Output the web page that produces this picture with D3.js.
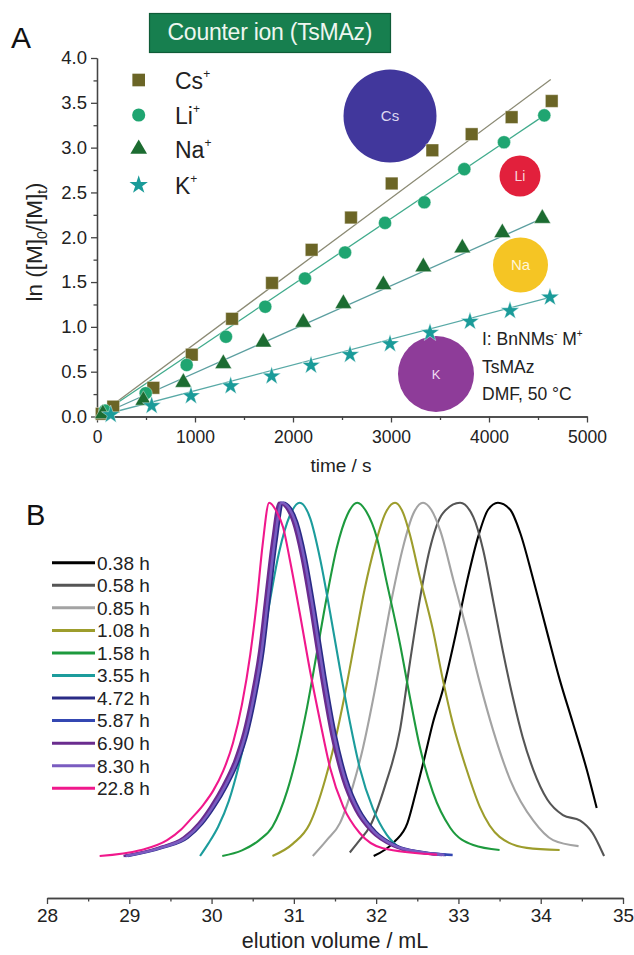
<!DOCTYPE html>
<html><head><meta charset="utf-8">
<script src="https://cdn.jsdelivr.net/npm/d3@7"></script>
<style>body{margin:0;background:#fff}text{font-family:"Liberation Sans",Arial,sans-serif}</style>
</head><body><svg id="c" width="634" height="955"></svg>
<script>
// ---------- Panel A data (time / s, ln([M]0/[M]t)) ----------
const csData = [[48,0.03],[166,0.11],[575,0.32],[967,0.69],[1378,1.09],[1786,1.49],[2190,1.86],[2592,2.22],[3007,2.60],[3422,2.97],[3823,3.15],[4231,3.34],[4640,3.52]];
const liData = [[82,0.065],[497,0.26],[915,0.575],[1316,0.89],[1717,1.225],[2122,1.54],[2531,1.83],[2939,2.16],[3340,2.39],[3748,2.76],[4153,3.06],[4564,3.36]];
const naData = [[60,0.03],[473,0.18],[881,0.38],[1289,0.59],[1697,0.83],[2105,1.05],[2514,1.26],[2922,1.47],[3330,1.67],[3728,1.88],[4136,2.05],[4544,2.21]];
const kData  = [[140,0.02],[558,0.12],[959,0.23],[1364,0.34],[1782,0.45],[2184,0.57],[2582,0.69],[2990,0.81],[3398,0.935],[3806,1.06],[4214,1.18],[4622,1.33]];
const csFit = [[0,0],[4630,3.76]];
const liFit = [[0,0],[4564,3.36]];
const naFit = [[0,0],[4544,2.21]];
const kFit  = [[0,0],[4622,1.33]];
const ionNames = ["Cs","Li","Na","K"];
const xTicksA = [0,1000,2000,3000,4000,5000];
const xMinorA = [500,1500,2500,3500,4500];
const yTicksA = [0,0.5,1,1.5,2,2.5,3,3.5,4];
const yMinorA = [0.25,0.75,1.25,1.75,2.25,2.75,3.25,3.75];

// ---------- Panel B data (elution volume / mL, normalised signal) ----------
const gpc038 = [[31.97,0],[32.22,0.04],[32.38,0.093],[32.49,0.187],[32.59,0.28],[32.69,0.377],[32.81,0.47],[32.96,0.62],[33.10,0.773],[33.24,0.904],[33.36,0.98],[33.48,1.0],[33.63,0.98],[33.75,0.915],[33.91,0.782],[34.07,0.64],[34.23,0.50],[34.39,0.377],[34.56,0.244],[34.68,0.136]];
const gpc058 = [[31.68,0.01],[31.80,0.045],[31.92,0.082],[32.11,0.20],[32.29,0.357],[32.41,0.547],[32.53,0.725],[32.65,0.867],[32.81,0.97],[33.02,1.0],[33.18,0.96],[33.30,0.867],[33.42,0.725],[33.54,0.58],[33.66,0.45],[33.78,0.337],[33.91,0.244],[34.08,0.16],[34.27,0.116],[34.48,0.10],[34.63,0.065],[34.72,0.025],[34.77,0]];
const gpc085 = [[31.23,0],[31.40,0.045],[31.56,0.093],[31.72,0.20],[31.84,0.306],[31.96,0.44],[32.08,0.59],[32.20,0.74],[32.33,0.877],[32.45,0.968],[32.57,1.0],[32.67,0.98],[32.78,0.92],[32.94,0.78],[33.10,0.64],[33.26,0.49],[33.42,0.357],[33.63,0.215],[33.91,0.10],[34.15,0.045],[34.46,0.028]];
const gpc108 = [[30.74,0],[30.99,0.035],[31.19,0.09],[31.38,0.216],[31.50,0.325],[31.62,0.458],[31.74,0.607],[31.86,0.755],[31.99,0.882],[32.11,0.969],[32.23,1.0],[32.33,0.97],[32.41,0.91],[32.53,0.79],[32.69,0.64],[32.81,0.50],[32.93,0.377],[33.10,0.244],[33.26,0.139],[33.50,0.054],[33.83,0.023],[34.23,0.017]];
const gpc158 = [[30.13,0],[30.37,0.016],[30.58,0.045],[30.74,0.083],[30.92,0.185],[31.04,0.289],[31.16,0.42],[31.28,0.576],[31.40,0.733],[31.52,0.871],[31.65,0.966],[31.77,1.0],[31.88,0.975],[32.01,0.90],[32.13,0.773],[32.29,0.60],[32.41,0.45],[32.53,0.31],[32.69,0.18],[32.90,0.08],[33.18,0.031],[33.50,0.017]];
const gpc355 = [[29.86,0],[29.96,0.035],[30.08,0.083],[30.21,0.156],[30.33,0.255],[30.46,0.387],[30.58,0.545],[30.70,0.71],[30.82,0.859],[30.95,0.963],[31.07,1.0],[31.20,0.955],[31.32,0.84],[31.44,0.69],[31.56,0.53],[31.68,0.38],[31.80,0.25],[31.96,0.135],[32.13,0.06],[32.29,0.022],[32.35,0.012]];
const gpc472 = [[28.98,0],[29.40,0.023],[29.71,0.052],[29.89,0.092],[30.03,0.137],[30.19,0.20],[30.33,0.27],[30.44,0.35],[30.53,0.445],[30.63,0.58],[30.71,0.74],[30.79,0.895],[30.87,1.0],[30.96,0.985],[31.04,0.945],[31.14,0.85],[31.26,0.69],[31.38,0.51],[31.51,0.34],[31.64,0.22],[31.80,0.13],[31.99,0.07],[32.26,0.028],[32.56,0.011],[32.85,0.003]];
const gpc587 = [[28.95,0],[29.37,0.023],[29.68,0.052],[29.86,0.092],[30.00,0.137],[30.16,0.20],[30.30,0.27],[30.41,0.35],[30.50,0.445],[30.60,0.58],[30.68,0.74],[30.76,0.895],[30.84,1.0],[30.93,0.985],[31.01,0.945],[31.11,0.85],[31.23,0.69],[31.35,0.51],[31.48,0.34],[31.61,0.22],[31.77,0.13],[31.96,0.07],[32.23,0.028],[32.53,0.011],[32.93,0.003]];
const gpc690 = [[28.93,0],[29.35,0.023],[29.66,0.052],[29.84,0.092],[29.98,0.137],[30.14,0.20],[30.28,0.27],[30.39,0.35],[30.48,0.445],[30.58,0.58],[30.66,0.74],[30.74,0.895],[30.82,1.0],[30.91,0.985],[30.99,0.945],[31.09,0.85],[31.21,0.69],[31.33,0.51],[31.46,0.34],[31.59,0.22],[31.75,0.13],[31.94,0.07],[32.21,0.028],[32.51,0.011],[32.80,0.003]];
const gpc830 = [[28.96,0],[29.38,0.023],[29.69,0.052],[29.87,0.092],[30.01,0.137],[30.17,0.20],[30.31,0.27],[30.42,0.35],[30.51,0.445],[30.61,0.58],[30.69,0.74],[30.77,0.895],[30.85,1.0],[30.94,0.985],[31.02,0.945],[31.12,0.85],[31.24,0.69],[31.36,0.51],[31.49,0.34],[31.62,0.22],[31.78,0.13],[31.97,0.07],[32.24,0.028],[32.54,0.011],[32.83,0.003]];
const gpc228 = [[28.64,0],[29.13,0.016],[29.46,0.045],[29.63,0.075],[29.75,0.105],[29.90,0.145],[30.02,0.185],[30.14,0.24],[30.26,0.32],[30.37,0.43],[30.47,0.57],[30.55,0.72],[30.62,0.88],[30.70,1.0],[30.79,0.975],[30.87,0.93],[30.95,0.84],[31.07,0.69],[31.20,0.52],[31.32,0.38],[31.44,0.25],[31.60,0.14],[31.80,0.065],[32.08,0.022],[32.74,0.004]];
const gpcLabels = ["0.38 h","0.58 h","0.85 h","1.08 h","1.58 h","3.55 h","4.72 h","5.87 h","6.90 h","8.30 h","22.8 h"];
const xTicksB = [28,29,30,31,32,33,34,35];
const xMinorB = [28.5,29.5,30.5,31.5,32.5,33.5,34.5];

// ---------- styles ----------
const gpcSeries = [gpc038,gpc058,gpc085,gpc108,gpc158,gpc355,gpc472,gpc587,gpc690,gpc830,gpc228];
const gpcColors = ["#000000","#555555","#a3a3a3","#9d9d2c","#1d9a3e","#1c9c9c","#2a2b86","#3447b2","#6a2c8e","#7a5cc0","#f0188c"];
const ionColors = {Cs:"#6b6526",Li:"#1fa571",Na:"#1c6c31",K:"#1a9b99"};
const fitColors = {Cs:"#8b8a74",Li:"#40ab8c",Na:"#5c9fa0",K:"#58a9a6"};

const svg = d3.select("#c");
svg.append("rect").attr("width",634).attr("height",955).attr("fill","#fff");

// ---------- Panel A ----------
const xA = d3.scaleLinear().domain([0,5000]).range([97,587]);
const yA = d3.scaleLinear().domain([0,4]).range([416.5,58]);
const axCol = "#444";

function styleAxis(g, fs){
  g.selectAll("path.domain").attr("stroke",axCol).attr("stroke-width",1.3);
  g.selectAll(".tick line").attr("stroke",axCol).attr("stroke-width",1.3);
  g.selectAll("text").attr("font-size",fs||17).attr("fill","#222").attr("font-family","'Liberation Sans',Arial,sans-serif");
}
const gxA = svg.append("g").attr("transform","translate(0,416.5)")
  .call(d3.axisBottom(xA).tickValues(xTicksA).tickFormat(d3.format("d")).tickSize(6).tickSizeOuter(0).tickPadding(8));
styleAxis(gxA,17.5);
const gxAm = svg.append("g").attr("transform","translate(0,416.5)")
  .call(d3.axisBottom(xA).tickValues(xMinorA).tickFormat("").tickSize(3.5).tickSizeOuter(0));
styleAxis(gxAm);
const gyA = svg.append("g").attr("transform","translate(97,0)")
  .call(d3.axisLeft(yA).tickValues(yTicksA).tickFormat(d3.format(".1f")).tickSize(6).tickSizeOuter(0).tickPadding(4));
styleAxis(gyA,18.5);
const gyAm = svg.append("g").attr("transform","translate(97,0)")
  .call(d3.axisLeft(yA).tickValues(yMinorA).tickFormat("").tickSize(3.5).tickSizeOuter(0));
styleAxis(gyAm);

svg.append("text").attr("x",341).attr("y",472).attr("text-anchor","middle").attr("font-size",19).attr("fill","#222").text("time / s");
const yl = svg.append("text").attr("transform","translate(42,242) rotate(-90)").attr("text-anchor","middle").attr("font-size",22.5).attr("fill","#222");
yl.append("tspan").text("ln ([M]");
yl.append("tspan").attr("font-size",14).attr("dy",5).text("0");
yl.append("tspan").attr("dy",-5).text("/[M]");
yl.append("tspan").attr("font-size",14).attr("dy",5).text("t");
yl.append("tspan").attr("dy",-5).text(")");

// size circles (illustration)
const ionCircles = [{n:"Cs",cx:390,cy:116,r:46.5,fill:"#41379c",fs:15,tc:"#ddd8f2"},
  {n:"Li",cx:520,cy:176,r:20.5,fill:"#e2203c",fs:14,tc:"#f8d6da"},
  {n:"Na",cx:520.5,cy:265,r:27.5,fill:"#f5c524",fs:15,tc:"#fff6d8"},
  {n:"K",cx:436,cy:374,r:38,fill:"#8e3c99",fs:13,tc:"#f0dcf3"}];
ionCircles.forEach(c=>{
  svg.append("circle").attr("cx",c.cx).attr("cy",c.cy).attr("r",c.r).attr("fill",c.fill);
  svg.append("text").attr("x",c.cx).attr("y",c.cy).attr("dy","0.35em").attr("text-anchor","middle").attr("font-size",c.fs).attr("fill",c.tc).text(c.n);
});

const lineA = d3.line().x(d=>xA(d[0])).y(d=>yA(d[1]));
const fits = {Cs:csFit,Li:liFit,Na:naFit,K:kFit};
const pts = {Cs:csData,Li:liData,Na:naData,K:kData};
ionNames.forEach(n=>{
  svg.append("path").attr("d",lineA(fits[n])).attr("fill","none").attr("stroke",fitColors[n]).attr("stroke-width",1.3);
});
const symTypes = {Cs:d3.symbolSquare,Li:d3.symbolCircle,Na:d3.symbolTriangle,K:d3.symbolStar};
const symSizes = {Cs:160,Li:135,Na:120,K:105};
ionNames.forEach(n=>{
  const sym = d3.symbol().type(symTypes[n]).size(symSizes[n]);
  svg.append("g").selectAll("path").data(pts[n]).join("path")
    .attr("transform",d=>`translate(${xA(d[0])},${yA(d[1])})`)
    .attr("d",sym).attr("fill",ionColors[n]).attr("stroke","#fff").attr("stroke-width",0.4);
});

// legend A
const legY = [80,115,149,185];
ionNames.forEach((n,i)=>{
  svg.append("path").attr("transform",`translate(138.7,${legY[i]})`)
    .attr("d",d3.symbol().type(symTypes[n]).size(symSizes[n])()).attr("fill",ionColors[n]);
  const t = svg.append("text").attr("x",175).attr("y",legY[i]+8.5).attr("font-size",23).attr("fill","#222");
  t.append("tspan").text(n);
  t.append("tspan").attr("font-size",12).attr("dy",-11).text("+");
});

// annotation
const ann = svg.append("g").attr("font-size",17.5).attr("fill","#222");
const a1 = ann.append("text").attr("x",482).attr("y",345);
a1.append("tspan").text("I: BnNMs");
a1.append("tspan").attr("font-size",10).attr("dy",-8).text("-");
a1.append("tspan").attr("dy",8).text(" M");
a1.append("tspan").attr("font-size",10).attr("dy",-8).text("+");
ann.append("text").attr("x",482).attr("y",373).text("TsMAz");
ann.append("text").attr("x",482).attr("y",400).text("DMF, 50 °C");

// title box
svg.append("rect").attr("x",149.5).attr("y",13.5).attr("width",241).attr("height",39).attr("fill","#177f4f").attr("stroke","#0f5c38").attr("stroke-width",1.2);
svg.append("text").attr("x",270).attr("y",40).attr("text-anchor","middle").attr("font-size",23).attr("fill","#eef6f0").attr("textLength",205).text("Counter ion (TsMAz)");
svg.append("text").attr("x",11).attr("y",48).attr("font-size",30).attr("fill","#111").text("A");

// ---------- Panel B ----------
const xB = d3.scaleLinear().domain([28,35]).range([47,623]);
const yB = d3.scaleLinear().domain([0,1]).range([856,502.7]);
const gxB = svg.append("g").attr("transform","translate(0,898)")
  .call(d3.axisBottom(xB).tickValues(xTicksB).tickFormat(d3.format("d")).tickSize(6).tickSizeOuter(0).tickPadding(5));
styleAxis(gxB,19);
const gxBm = svg.append("g").attr("transform","translate(0,898)")
  .call(d3.axisBottom(xB).tickValues(xMinorB).tickFormat("").tickSize(3.5).tickSizeOuter(0));
styleAxis(gxBm);
svg.append("text").attr("x",335).attr("y",948).attr("text-anchor","middle").attr("font-size",21.5).attr("fill","#222").text("elution volume / mL");

const lineB = d3.line().x(d=>xB(d[0])).y(d=>yB(d[1])).curve(d3.curveMonotoneX);
gpcSeries.forEach((s,i)=>{
  svg.append("path").attr("d",lineB(s)).attr("fill","none").attr("stroke",gpcColors[i])
    .attr("stroke-width", i>=6 && i<=9 ? 2.6 : 2.1).attr("stroke-linejoin","round");
});

// legend B
gpcLabels.forEach((l,i)=>{
  const y = 562.7 + i*22.56;
  svg.append("line").attr("x1",52).attr("x2",95).attr("y1",y).attr("y2",y).attr("stroke",gpcColors[i]).attr("stroke-width",3);
  svg.append("text").attr("x",97).attr("y",y).attr("dy","0.36em").attr("font-size",19).attr("fill","#222").text(l);
});
svg.append("text").attr("x",26).attr("y",525).attr("font-size",29).attr("fill","#111").text("B");
</script></body></html>
